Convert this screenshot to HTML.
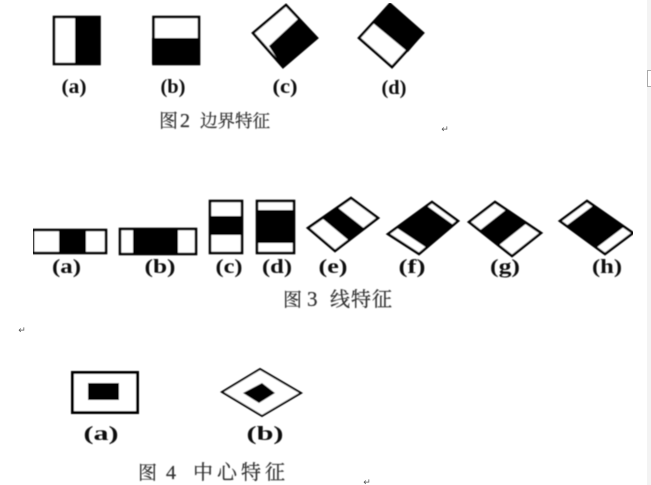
<!DOCTYPE html>
<html>
<head>
<meta charset="utf-8">
<style>
html,body{margin:0;padding:0;background:#fff;width:651px;height:485px;overflow:hidden}
svg{display:block}
.l{font-family:"Liberation Serif",serif;font-weight:bold;font-size:20px;fill:#111;text-anchor:middle}
.c{font-family:"Liberation Serif","Noto Serif CJK SC",serif;fill:#333;stroke:#333;stroke-width:0.25}
.r{font-family:"DejaVu Sans",sans-serif;font-size:9px;fill:#555;text-anchor:middle}
.s{fill:#fff;stroke:#000;stroke-width:2.6;stroke-linejoin:miter}
</style>
</head>
<body>
<svg width="651" height="485" viewBox="0 0 651 485" xmlns="http://www.w3.org/2000/svg">
<defs><filter id="b" x="0" y="0" width="100%" height="100%"><feGaussianBlur stdDeviation="0.45"/></filter></defs>
<rect width="651" height="485" fill="#fff"/>
<rect x="647" y="0" width="4" height="485" fill="#f3f3f3"/>
<rect x="647.5" y="70.5" width="4" height="16" fill="#fff" stroke="#aaa"/>
<g filter="url(#b)">
<!-- Fig 2 -->
<rect class="s" x="54" y="17" width="45.5" height="47"/><rect x="75" y="16" width="25" height="49"/>
<rect class="s" x="153.5" y="17" width="45.5" height="47"/><rect x="152" y="38" width="48" height="26"/>
<polygon class="s" points="286,5 317,38 283,67 253,33"/><polygon points="299,18 318,38 283,68 269,46"/>
<polygon class="s" points="390,4 423,33 392,67 359,38"/><polygon points="390,3 424,33 408,52 373,23"/>
<!-- Fig 3 -->
<rect class="s" x="33" y="230" width="73" height="23"/><rect x="59" y="229" width="27" height="25"/>
<rect class="s" x="120" y="229" width="76" height="25"/><rect x="133" y="228" width="45" height="27"/>
<rect class="s" x="210" y="201" width="32" height="52"/><rect x="209" y="216" width="34" height="19"/>
<rect class="s" x="257" y="201" width="37" height="52"/><rect x="256" y="210" width="39" height="33"/>
<polygon class="s" points="351,198 378,218 335,251 308,228"/><polygon points="321.5,217.8 337,207 365,229 349.5,241"/>
<polygon class="s" points="432,202 458,221 419,254 388,234"/><polygon points="396,227.4 426,205.3 454,225.4 427,248"/>
<polygon class="s" points="495,202 541,233 512,256 469,222"/><polygon points="507,209 527,223 498,246 479,231"/>
<polygon class="s" points="587,201 633,233 605,254 560,221"/><polygon points="594,205 624.6,226.4 596,248 566,226"/>
<!-- Fig 4 -->
<rect class="s" x="72.5" y="372.5" width="65" height="40" style="stroke-width:3"/><rect x="88" y="383" width="31" height="17"/>
<polygon class="s" points="260,369 301,393 262,416 222,392" style="stroke-width:2"/><polygon points="262,383 275,393 259,403 243,393"/>
<!-- labels -->
<text class="l" x="74" y="93" textLength="25" lengthAdjust="spacingAndGlyphs">(a)</text>
<text class="l" x="173" y="93" textLength="25" lengthAdjust="spacingAndGlyphs">(b)</text>
<text class="l" x="285" y="93" textLength="25" lengthAdjust="spacingAndGlyphs">(c)</text>
<text class="l" x="394" y="94" textLength="25" lengthAdjust="spacingAndGlyphs">(d)</text>
<text class="l" x="66.5" y="273" textLength="29" lengthAdjust="spacingAndGlyphs">(a)</text>
<text class="l" x="160" y="273" textLength="31" lengthAdjust="spacingAndGlyphs">(b)</text>
<text class="l" x="229" y="273" textLength="27" lengthAdjust="spacingAndGlyphs">(c)</text>
<text class="l" x="277" y="273" textLength="30" lengthAdjust="spacingAndGlyphs">(d)</text>
<text class="l" x="333" y="273" textLength="29" lengthAdjust="spacingAndGlyphs">(e)</text>
<text class="l" x="412" y="273" textLength="27" lengthAdjust="spacingAndGlyphs">(f)</text>
<text class="l" x="505" y="273" textLength="30" lengthAdjust="spacingAndGlyphs">(g)</text>
<text class="l" x="607" y="273" textLength="30" lengthAdjust="spacingAndGlyphs">(h)</text>
<text class="l" x="101" y="440" textLength="35" lengthAdjust="spacingAndGlyphs">(a)</text>
<text class="l" x="265" y="440" textLength="37" lengthAdjust="spacingAndGlyphs">(b)</text>
<!-- captions -->
<text class="c" x="159" y="127" font-size="19">图</text>
<text class="c" x="180" y="127" font-size="20">2</text>
<text class="c" x="200" y="127" font-size="17.5">边界特征</text>
<text class="c" x="283" y="306" font-size="19">图</text>
<text class="c" x="307" y="306" font-size="21">3</text>
<text class="c" x="330" y="306" font-size="20" letter-spacing="1">线特征</text>
<text class="c" x="138" y="479" font-size="19">图</text>
<text class="c" x="166" y="479" font-size="20">4</text>
<text class="c" x="193" y="479" font-size="20" letter-spacing="4">中心特征</text>
</g>
<text class="r" x="445" y="132">↵</text>
<text class="r" x="22" y="333">↵</text>
<text class="r" x="367" y="485">↵</text>
</svg>
</body>
</html>
